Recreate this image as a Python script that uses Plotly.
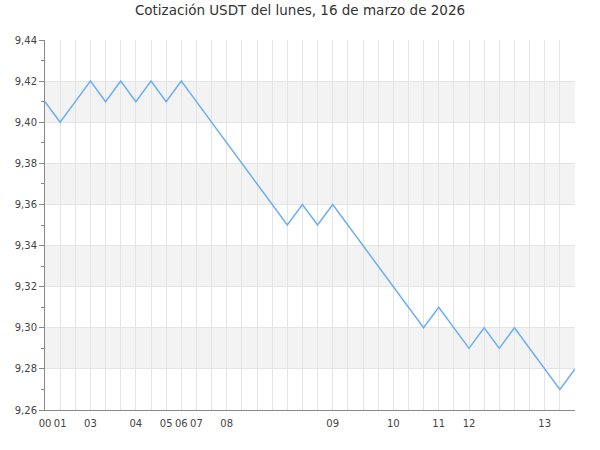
import plotly.graph_objects as go

title = "Cotización USDT del lunes, 16 de marzo de 2026"

hours = ["00", "01", "01", "03", "03", "03", "04", "04", "05", "06", "07", "07",
         "08", "08", "08", "08", "08", "08", "08", "09", "09", "09", "09",
         "10", "10", "10", "11", "11", "12", "12", "12", "12", "12", "13", "13", "13"]

prices = [9.41, 9.40, 9.41, 9.42, 9.41, 9.42, 9.41, 9.42, 9.41, 9.42, 9.41, 9.40,
          9.39, 9.38, 9.37, 9.36, 9.35, 9.36, 9.35, 9.36, 9.35, 9.34, 9.33, 9.32,
          9.31, 9.30, 9.31, 9.30, 9.29, 9.30, 9.29, 9.30, 9.29, 9.28, 9.27, 9.28]

y_ticks = [9.26, 9.28, 9.30, 9.32, 9.34, 9.36, 9.38, 9.40, 9.42, 9.44]

idx = list(range(len(prices)))
tickvals, ticktext = [], []
for i, h in enumerate(hours):
    if i == 0 or hours[i - 1] != h:
        tickvals.append(i)
        ticktext.append(h)

fig = go.Figure()
fig.add_trace(go.Scatter(x=idx, y=prices, mode="lines",
                         line=dict(color="#6aaff2", width=1.5),
                         hoverinfo="y"))

shapes = []
for k in range(1, len(y_ticks) - 1, 2):
    shapes.append(dict(type="rect", xref="paper", yref="y", x0=0, x1=1,
                       y0=y_ticks[k], y1=y_ticks[k + 1],
                       fillcolor="#f3f3f3", line=dict(width=0), layer="below"))

fig.update_layout(
    width=600, height=450,
    margin=dict(l=45, r=25, t=40, b=40, autoexpand=False),
    paper_bgcolor="white", plot_bgcolor="white",
    separators=",.",
    title=dict(text=title, x=0.5, xanchor="center", yref="container", y=0.988, yanchor="top",
               font=dict(family="DejaVu Sans", size=13.5, color="#333333"), automargin=False),
    font=dict(family="DejaVu Sans", size=10, color="#444444"),
    showlegend=False,
    shapes=shapes,
)
fig.update_xaxes(range=[0, len(prices) - 1], tickvals=tickvals, ticktext=ticktext,
                 tickangle=0, automargin=False, ticklabelstandoff=4,
                 showgrid=True, gridcolor="#e4e4e4", gridwidth=1,
                 minor=dict(dtick=1, tick0=0, showgrid=True, gridcolor="#e4e4e4", gridwidth=1),
                 showline=True, linecolor="#888888", linewidth=1,
                 ticks="", zeroline=False, tickfont=dict(size=10, color="#444444"))
fig.update_yaxes(range=[9.26, 9.44], tickvals=y_ticks, tickformat=".2f",
                 automargin=False,
                 showgrid=True, gridcolor="#e4e4e4", gridwidth=1,
                 showline=True, linecolor="#888888", linewidth=1,
                 ticks="outside", ticklen=5, tickcolor="#888888",
                 minor=dict(dtick=0.01, tick0=9.26, ticks="outside", ticklen=3,
                            tickcolor="#888888", showgrid=False),
                 zeroline=False, tickfont=dict(size=10, color="#444444"))

fig.write_html("out.html", config={"displayModeBar": False},
               post_script="document.body.style.margin='0px';document.body.style.overflow='hidden';")
